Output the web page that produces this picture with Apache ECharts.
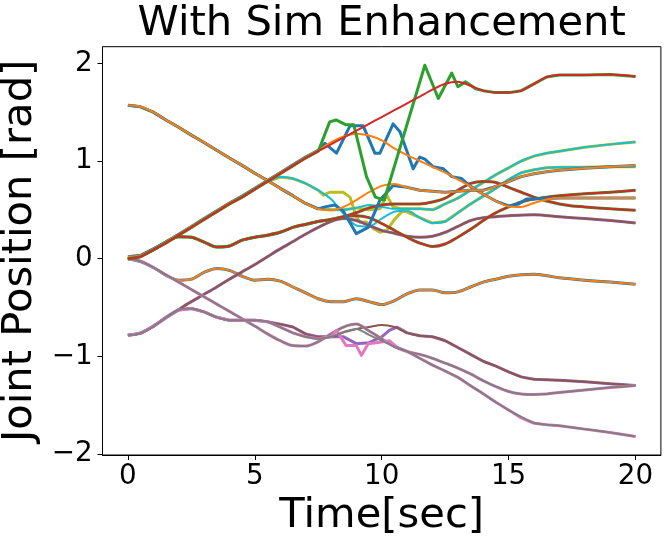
<!DOCTYPE html>
<html>
<head>
<meta charset="utf-8">
<script src="https://cdn.jsdelivr.net/npm/echarts@6/dist/echarts.min.js"></script>
<style>html,body{margin:0;padding:0;background:#fff;}#c{width:667px;height:542px;}</style>
</head>
<body>
<div id="c"></div>
<script>
// ---- data: [time (s), joint position (rad)] ----
const xTicks = [0, 5, 10, 15, 20];
const yTicks = [-2, -1, 0, 1, 2];

// rising joint (green actual / red desired)
const jC_des = [[0,0],[0.5,0.02],[1,0.09],[1.5,0.16],[2,0.24],[2.5,0.32],[3,0.40],[3.5,0.48],[4,0.56],[4.5,0.63],[5,0.71],[5.5,0.79],[6,0.87],[6.5,0.95],[7,1.03],[7.5,1.10],[8,1.17],[8.5,1.24],[9,1.31],[9.5,1.38],[10,1.45],[10.5,1.52],[11,1.59],[11.5,1.66],[12,1.73],[12.5,1.79],[13,1.81],[13.5,1.77],[14,1.72],[14.5,1.70],[15,1.70],[15.5,1.72],[16,1.79],[16.5,1.86],[17,1.88],[18,1.88],[19,1.885],[20,1.865]];
const jC_act = [[0,0],[0.5,0.02],[1,0.09],[1.5,0.16],[2,0.24],[2.5,0.32],[3,0.40],[3.5,0.48],[4,0.56],[4.5,0.63],[5,0.71],[5.5,0.79],[6,0.87],[6.5,0.95],[7,1.03],[7.5,1.10],[7.95,1.40],[8.2,1.42],[8.6,1.37],[8.9,1.37],[9.4,0.84],[9.75,0.63],[10.1,0.60],[11.7,1.98],[12.23,1.64],[12.76,1.90],[13.0,1.76],[13.3,1.81],[13.7,1.74],[14,1.72],[14.5,1.70],[15,1.70],[15.5,1.72],[16,1.79],[16.5,1.86],[17,1.88],[18,1.88],[19,1.885],[20,1.865]];

// joint following the rising one, then peaking (blue actual / orange desired)
const jB_des = [[0,0.02],[0.5,0.035],[1,0.10],[1.5,0.17],[2,0.25],[2.5,0.33],[3,0.41],[3.5,0.49],[4,0.57],[4.5,0.64],[5,0.72],[5.5,0.80],[6,0.88],[6.5,0.96],[7,1.04],[7.5,1.11],[8,1.19],[8.5,1.25],[9,1.28],[9.5,1.26],[10,1.21],[10.5,1.13],[11,1.06],[11.5,1.00],[12,0.94],[12.5,0.88],[13,0.81],[13.5,0.74],[14,0.66],[14.5,0.59],[15,0.535],[15.5,0.53],[16,0.57],[16.5,0.605],[17,0.62],[18,0.62],[19,0.62],[20,0.62]];
const jB_act = [[0,0.02],[0.5,0.035],[1,0.10],[1.5,0.17],[2,0.25],[2.5,0.33],[3,0.41],[3.5,0.49],[4,0.57],[4.5,0.64],[5,0.72],[5.5,0.80],[6,0.88],[6.5,0.96],[7,1.04],[7.5,1.11],[7.76,1.18],[8.22,1.08],[8.75,1.36],[9.27,1.36],[9.73,1.08],[9.93,1.08],[10.45,1.38],[10.72,1.30],[11.24,0.92],[11.5,1.04],[11.7,1.02],[12.03,0.94],[12.43,0.92],[12.76,0.84],[13.15,0.82],[13.5,0.74],[14,0.66],[14.5,0.59],[15,0.54],[15.4,0.56],[15.7,0.61],[16,0.61],[16.5,0.615],[17,0.62],[18,0.62],[19,0.62],[20,0.62]];

// joint starting at 1.57 (blue actual / orange desired)
const jA_des = [[0,1.57],[0.5,1.555],[1,1.50],[1.5,1.42],[2,1.345],[2.5,1.265],[3,1.19],[3.5,1.11],[4,1.03],[4.5,0.955],[5,0.875],[5.5,0.80],[6,0.72],[6.5,0.645],[7,0.565],[7.5,0.51],[8,0.495],[8.5,0.53],[9,0.60],[9.5,0.68],[10,0.745],[10.5,0.765],[11,0.73],[11.5,0.70],[12,0.69],[12.5,0.68],[13,0.69],[13.5,0.70],[14,0.70],[14.5,0.74],[15,0.79],[15.5,0.84],[16,0.87],[16.5,0.89],[17,0.905],[18,0.925],[19,0.94],[20,0.955]];
const jA_act = [[0,1.57],[0.5,1.555],[1,1.50],[1.5,1.42],[2,1.345],[2.5,1.265],[3,1.19],[3.5,1.11],[4,1.03],[4.5,0.955],[5,0.875],[5.5,0.80],[6,0.72],[6.5,0.645],[7,0.565],[7.5,0.51],[7.76,0.53],[8.15,0.55],[8.48,0.49],[9.0,0.256],[9.47,0.32],[9.93,0.60],[10.45,0.75],[11,0.73],[11.5,0.70],[12,0.69],[12.5,0.68],[13,0.69],[13.5,0.70],[14,0.70],[14.5,0.74],[15,0.79],[15.5,0.84],[16,0.87],[16.5,0.89],[17,0.905],[18,0.925],[19,0.94],[20,0.955]];

// two wavy joints from 0 (green actual / red desired)
const jF_des = [[0,0],[0.5,0.03],[1,0.09],[1.5,0.17],[2,0.225],[2.5,0.22],[3,0.17],[3.5,0.12],[4,0.13],[4.5,0.19],[5,0.22],[5.5,0.24],[6,0.27],[6.5,0.32],[7,0.35],[7.5,0.38],[8,0.40],[8.5,0.43],[9,0.47],[9.5,0.52],[10,0.55],[10.5,0.56],[11,0.56],[11.5,0.56],[12,0.58],[12.5,0.62],[13,0.70],[13.5,0.77],[14,0.79],[14.5,0.78],[15,0.73],[15.5,0.68],[16,0.63],[16.5,0.59],[17,0.56],[17.5,0.54],[18,0.53],[19,0.51],[20,0.495]];
const jG_des = [[0,0],[0.5,0.03],[1,0.09],[1.5,0.17],[2,0.225],[2.5,0.22],[3,0.17],[3.5,0.12],[4,0.13],[4.5,0.19],[5,0.22],[5.5,0.24],[6,0.27],[6.5,0.32],[7,0.35],[7.5,0.38],[8,0.40],[8.5,0.43],[9,0.44],[9.5,0.42],[10,0.36],[10.5,0.29],[11,0.22],[11.5,0.16],[12,0.125],[12.5,0.15],[13,0.22],[13.5,0.30],[14,0.39],[14.5,0.47],[15,0.53],[15.5,0.58],[16,0.61],[16.5,0.63],[17,0.645],[18,0.665],[19,0.68],[20,0.70]];

// joint rising from -0.785 (purple actual / brown desired)
const jH_des = [[0,-0.785],[0.5,-0.76],[1,-0.69],[1.5,-0.60],[2,-0.52],[2.5,-0.44],[3,-0.365],[3.5,-0.29],[4,-0.21],[4.5,-0.135],[5,-0.06],[5.5,0.02],[6,0.10],[6.5,0.175],[7,0.25],[7.5,0.32],[8,0.38],[8.5,0.41],[9,0.39],[9.5,0.34],[10,0.29],[10.5,0.26],[11,0.23],[11.5,0.22],[12,0.23],[12.5,0.27],[13,0.33],[13.5,0.39],[14,0.42],[14.5,0.43],[15,0.44],[16,0.45],[17,0.43],[18,0.41],[19,0.39],[20,0.365]];

// joint from 0 to -0.26 (blue actual / orange desired)
const jI_des = [[0,0],[0.5,-0.03],[1,-0.09],[1.5,-0.17],[2,-0.22],[2.5,-0.21],[3,-0.14],[3.5,-0.10],[4,-0.12],[4.5,-0.18],[5,-0.22],[5.5,-0.21],[6,-0.23],[6.5,-0.29],[7,-0.35],[7.5,-0.41],[8,-0.44],[8.5,-0.44],[9,-0.41],[9.5,-0.44],[10,-0.47],[10.5,-0.43],[11,-0.36],[11.5,-0.32],[12,-0.32],[12.5,-0.35],[13,-0.34],[13.5,-0.29],[14,-0.24],[14.5,-0.21],[15,-0.18],[15.5,-0.165],[16,-0.16],[16.5,-0.175],[17,-0.195],[18,-0.22],[19,-0.24],[20,-0.263]];

// joint from 0 descending (pink actual / gray desired)
const jJ_des = [[0,0],[0.5,-0.025],[1,-0.09],[1.5,-0.165],[2,-0.24],[2.5,-0.315],[3,-0.39],[3.5,-0.465],[4,-0.54],[4.5,-0.615],[5,-0.69],[5.5,-0.77],[6,-0.84],[6.5,-0.89],[7,-0.895],[7.5,-0.85],[8,-0.77],[8.5,-0.70],[9,-0.67],[9.5,-0.74],[10,-0.82],[10.5,-0.90],[11,-0.95],[11.5,-0.98],[12,-1.02],[12.5,-1.07],[13,-1.12],[13.5,-1.18],[14,-1.25],[14.5,-1.31],[15,-1.36],[15.5,-1.385],[16,-1.39],[16.5,-1.385],[17,-1.37],[18,-1.345],[19,-1.32],[20,-1.298]];

// wavy joint from -0.785 (pink actual / gray desired)
const jK_des = [[0,-0.785],[0.5,-0.765],[1,-0.695],[1.5,-0.605],[2,-0.525],[2.5,-0.51],[3,-0.545],[3.5,-0.60],[4,-0.63],[4.5,-0.63],[5,-0.63],[5.5,-0.645],[6,-0.70],[6.5,-0.76],[7,-0.80],[7.5,-0.82],[8,-0.80],[8.5,-0.75],[9,-0.72],[9.5,-0.78],[10,-0.84],[10.5,-0.90],[11,-0.95],[11.5,-1.02],[12,-1.09],[12.5,-1.15],[13,-1.215],[13.5,-1.30],[14,-1.383],[14.5,-1.47],[15,-1.55],[15.5,-1.62],[16,-1.68],[16.5,-1.70],[17,-1.71],[18,-1.745],[19,-1.78],[20,-1.82]];
const jK_act = [[0,-0.785],[0.5,-0.765],[1,-0.695],[1.5,-0.605],[2,-0.525],[2.5,-0.51],[3,-0.545],[3.5,-0.60],[4,-0.63],[4.5,-0.63],[5,-0.63],[5.5,-0.645],[6,-0.70],[6.5,-0.76],[7,-0.80],[7.5,-0.82],[8,-0.80],[8.22,-0.735],[8.6,-0.89],[9.0,-0.89],[9.2,-0.99],[9.47,-0.87],[9.93,-0.855],[10.3,-0.84],[10.6,-0.905],[11,-0.95],[11.5,-1.02],[12,-1.09],[12.5,-1.15],[13,-1.215],[13.5,-1.30],[14,-1.383],[14.5,-1.47],[15,-1.55],[15.5,-1.63],[16,-1.685],[16.5,-1.70],[17,-1.71],[18,-1.745],[19,-1.78],[20,-1.82]];

// joint from -0.785 ending at -1.3 (purple actual / brown desired)
const jL_des = [[0,-0.785],[0.5,-0.765],[1,-0.695],[1.5,-0.605],[2,-0.525],[2.5,-0.51],[3,-0.545],[3.5,-0.60],[4,-0.63],[4.5,-0.63],[5,-0.63],[5.5,-0.645],[6,-0.67],[6.5,-0.70],[7,-0.77],[7.5,-0.80],[8,-0.80],[8.5,-0.755],[9,-0.72],[9.5,-0.70],[10,-0.68],[10.5,-0.70],[11,-0.76],[11.5,-0.79],[12,-0.80],[12.5,-0.84],[13,-0.91],[13.5,-0.98],[14,-1.05],[14.5,-1.10],[15,-1.16],[15.5,-1.21],[16,-1.235],[16.5,-1.24],[17,-1.245],[18,-1.26],[19,-1.28],[20,-1.298]];
const jL_act = [[0,-0.785],[0.5,-0.765],[1,-0.695],[1.5,-0.605],[2,-0.525],[2.5,-0.51],[3,-0.545],[3.5,-0.60],[4,-0.63],[4.5,-0.63],[5,-0.63],[5.5,-0.645],[6,-0.67],[6.5,-0.70],[7,-0.77],[7.5,-0.80],[8,-0.80],[8.5,-0.80],[9,-0.87],[9.5,-0.86],[10,-0.80],[10.3,-0.735],[10.6,-0.70],[11,-0.76],[11.5,-0.79],[12,-0.80],[12.5,-0.84],[13,-0.91],[13.5,-0.98],[14,-1.05],[14.5,-1.10],[15,-1.16],[15.5,-1.21],[16,-1.235],[16.5,-1.24],[17,-1.245],[18,-1.26],[19,-1.28],[20,-1.298]];

// two joints ending near 0.94 and 1.2 (olive actual / cyan desired)
const jOA_des = [[0,0],[0.5,0.02],[1,0.09],[1.5,0.16],[2,0.24],[2.5,0.32],[3,0.40],[3.5,0.48],[4,0.56],[4.5,0.63],[5,0.71],[5.5,0.79],[6,0.835],[6.5,0.82],[7,0.77],[7.5,0.70],[8,0.61],[8.5,0.46],[9,0.34],[9.5,0.33],[10,0.41],[10.5,0.48],[11,0.49],[11.5,0.42],[12,0.365],[12.5,0.38],[13,0.47],[13.5,0.56],[14,0.64],[14.5,0.72],[15,0.81],[15.5,0.88],[16,0.91],[16.5,0.93],[17,0.935],[18,0.937],[19,0.94],[20,0.94]];
const jOA_act = [[0,0],[0.5,0.02],[1,0.09],[1.5,0.16],[2,0.24],[2.5,0.32],[3,0.40],[3.5,0.48],[4,0.56],[4.5,0.63],[5,0.71],[5.5,0.79],[6,0.835],[6.5,0.82],[7,0.77],[7.5,0.70],[7.7,0.65],[7.95,0.68],[8.48,0.68],[8.75,0.63],[9.0,0.43],[9.14,0.375],[9.4,0.375],[9.67,0.31],[9.93,0.27],[10.2,0.29],[10.5,0.40],[10.85,0.495],[11.5,0.42],[12,0.365],[12.5,0.38],[13,0.47],[13.5,0.56],[14,0.64],[14.5,0.72],[15,0.81],[15.5,0.88],[16,0.91],[16.5,0.93],[17,0.935],[18,0.937],[19,0.94],[20,0.94]];
const jOB_des = [[0,1.57],[0.5,1.555],[1,1.50],[1.5,1.42],[2,1.345],[2.5,1.265],[3,1.19],[3.5,1.11],[4,1.03],[4.5,0.955],[5,0.875],[5.5,0.80],[6,0.72],[6.5,0.645],[7,0.565],[7.5,0.51],[8,0.50],[8.5,0.50],[9,0.52],[9.5,0.55],[10,0.53],[10.5,0.51],[11,0.51],[11.5,0.51],[12,0.50],[12.5,0.56],[13,0.62],[13.5,0.70],[14,0.78],[14.5,0.86],[15,0.93],[15.5,1.00],[16,1.05],[16.5,1.08],[17,1.10],[18,1.14],[19,1.17],[20,1.195]];
const jOB_act = [[0,1.57],[0.5,1.555],[1,1.50],[1.5,1.42],[2,1.345],[2.5,1.265],[3,1.19],[3.5,1.11],[4,1.03],[4.5,0.955],[5,0.875],[5.5,0.80],[6,0.72],[6.5,0.645],[7,0.565],[7.5,0.51],[8,0.50],[8.5,0.50],[9,0.52],[9.5,0.50],[9.93,0.51],[10.2,0.65],[10.45,0.53],[10.8,0.51],[11.5,0.51],[12,0.50],[12.5,0.56],[13,0.62],[13.5,0.70],[14,0.78],[14.5,0.86],[15,0.93],[15.5,1.00],[16,1.05],[16.5,1.08],[17,1.10],[18,1.14],[19,1.17],[20,1.195]];

// ---- styling ----
const C = {blue:'#1f77b4', orange:'#ff7f0e', green:'#2ca02c', red:'#d62728', purple:'#9467bd',
           brown:'#8c564b', pink:'#e377c2', gray:'#7f7f7f', olive:'#bcbd22', cyan:'#17becf'};
const FONT = 'DejaVu Sans';

// drawing order: [actual data, desired data, actual colour, desired colour]
const pairs = [
  [jOA_act, jOA_des, C.olive, C.cyan],
  [jOB_act, jOB_des, C.olive, C.cyan],
  [jI_des, jI_des, C.blue, C.orange],
  [jH_des, jH_des, C.purple, C.brown],
  [jL_act, jL_des, C.purple, C.brown],
  [jJ_des, jJ_des, C.pink, C.gray],
  [jK_act, jK_des, C.pink, C.gray],
  [jG_des, jG_des, C.green, C.red],
  [jF_des, jF_des, C.green, C.red],
  [jB_act, jB_des, C.blue, C.orange],
  [jA_act, jA_des, C.blue, C.orange],
  [jC_act, jC_des, C.green, C.red]
];

const series = [];
pairs.forEach(function (p) {
  const same = p[0] === p[1];
  series.push({type:'line', data:p[0], showSymbol:false, symbol:'none', smooth: same ? 0.3 : false,
    lineStyle:{color:p[2], width:3, join:'round'}, itemStyle:{color:p[2]}, silent:true});
  series.push({type:'line', data:p[1], showSymbol:false, symbol:'none', smooth:0.3,
    lineStyle:{color:p[3], width:2}, itemStyle:{color:p[3]}, silent:true});
});

const fmt = function (v) { return String(v).replace('-', '\u2212'); };

const chart = echarts.init(document.getElementById('c'), null, {renderer:'canvas'});
chart.setOption({
  animation: false,
  backgroundColor: '#fff',
  grid: {left:102.5, top:46.7, width:558.4, height:408.3, outerBoundsMode:'none', containLabel:false,
         show:true, borderColor:'#000', borderWidth:1, backgroundColor:'transparent'},
  graphic: [{type:'text', x:381.7, y:24.1, silent:true,
    style:{text:'With Sim Enhancement', fill:'#000', font:'41.67px "DejaVu Sans"', align:'center', verticalAlign:'middle', textAlign:'center', textVerticalAlign:'middle'}}],
  xAxis: {
    type:'value', min:-1, max:21,
    axisLine:{show:true, onZero:false, lineStyle:{color:'#000', width:1}},
    splitLine:{show:false},
    axisTick:{show:true, inside:false, length:5, customValues:xTicks, lineStyle:{color:'#000', width:1}},
    axisLabel:{customValues:xTicks, fontSize:27.78, fontFamily:FONT, color:'#000', margin:7.3, formatter:fmt},
    name:'Time[sec]', nameLocation:'middle', nameGap:39.5,
    nameTextStyle:{fontSize:41.67, fontFamily:FONT, color:'#000'}
  },
  yAxis: {
    type:'value', min:-2.01, max:2.17,
    axisLine:{show:true, onZero:false, lineStyle:{color:'#000', width:1}},
    splitLine:{show:false},
    axisTick:{show:true, inside:false, length:5, customValues:yTicks, lineStyle:{color:'#000', width:1}},
    axisLabel:{customValues:yTicks, fontSize:27.78, fontFamily:FONT, color:'#000', margin:9.8, formatter:fmt},
    name:'Joint Position [rad]', nameLocation:'middle', nameGap:60, nameRotate:90,
    nameTextStyle:{fontSize:41.67, fontFamily:FONT, color:'#000'}
  },
  series: series
});
</script>
</body>
</html>
